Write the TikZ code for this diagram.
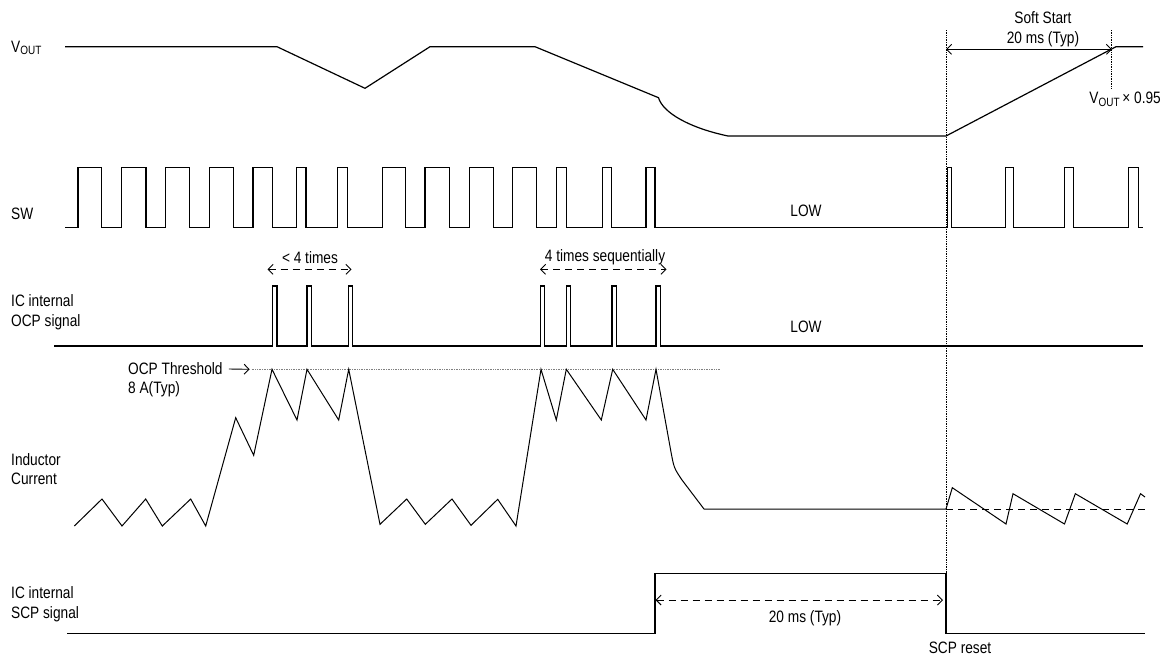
\documentclass[tikz,border=0pt]{standalone}
\usepackage{fontspec}
\setmainfont{Liberation Sans}[FakeStretch=0.83]
\usetikzlibrary{arrows.meta, positioning}
\tikzset{
	sigtext/.style={font=\fontsize{16.5}{19.7}\selectfont, inner sep=0pt}
}
\tikzset{
	sigline/.style={line width=1.2pt, line join=miter}
}
\tikzset{
	barbs/.style={line width=0.9pt, {Straight Barb[length=5pt,width=10pt]}-{Straight Barb[length=5pt,width=10pt]}}
}
\tikzset{
	guide/.style={line width=0.7pt, densely dotted}
}
\tikzset{
	longdash/.style={dash pattern=on 7pt off 5pt}
}
\newcommand{\vout}{V\raisebox{-0.3ex}{\fontsize{12}{12}\selectfont OUT}}

\begin{document}
\begin{tikzpicture}[x=1pt, y=-1pt]
      \useasboundingbox (0,0) rectangle (1162,657);
      % row labels
      \node[sigtext, anchor=west] (vout) at (11,48) {\vout};
      \node[sigtext, anchor=west] (sw) at (11,214) {SW};
      \node[sigtext, anchor=west, align=left] (ocp) at (11,312) {IC internal\\OCP signal};
      \node[sigtext, anchor=west, align=left] (ind) at (11,469) {Inductor\\Current};
      \node[sigtext, anchor=west, align=left] (scp) at (11,604) {IC internal\\SCP signal};
      % output voltage
      \draw[sigline] (65,46.7) -- (277,46.7) -- (365,88.3) -- (430,46.7) -- (535,46.7)
        -- (658.5,97.7) .. controls (663,113) and (690,128) .. (728,136) -- (946,136)
        -- (1116,46.7) -- (1143,46.7);
      % switching node
      \draw[sigline] (65,227.5)
        \foreach \a/\b in {78/101.7, 121.7/146, 165.3/189.3, 209.3/233.3, 253/272.7,
          296.7/306, 337.3/347.7, 382.3/405.7, 425/449.3, 469.3/493.3, 512.7/536.7,
          556.7/566.7, 602.3/611.7, 646/655, 947.3/951.7, 1005.7/1013.3,
          1064.3/1073.3, 1128.3/1138.3}
          { -- (\a,227.5) -- (\a,167.7) -- (\b,167.7) -- (\b,227.5) }
        -- (1143,227.5);
      \node[sigtext] (swlow) at (806,211) {LOW};
      % OCP flag
      \draw[sigline] (54,346)
        \foreach \a/\b in {272.7/277, 307/311.3, 348.7/352.7, 540.3/544.7,
          566.3/570.3, 612/616.3, 656/660.3}
          { -- (\a,346) -- (\a,286) -- (\b,286) -- (\b,346) }
        -- (1143,346);
      \node[sigtext] (ocplow) at (806,327) {LOW};
      \node[sigtext] (few) at (310,258) {< 4 times};
      \coordinate (fewL) at (267.5,269.3);
      \coordinate (fewR) at (351.5,269.3);
      \draw[barbs, longdash] (fewL) -- (fewR);
      \node[sigtext] (seq) at (605,257) {4 times sequentially};
      \coordinate (seqL) at (540,269.3);
      \coordinate (seqR) at (666.5,269.3);
      \draw[barbs, longdash] (seqL) -- (seqR);
      % OCP threshold
      \node[sigtext, anchor=west] (thr) at (128,369) {OCP Threshold};
      \node[sigtext, anchor=west] (thrval) at (128,389) {8 A(Typ)};
      \coordinate (thrL) at (251.7,369.3);
      \coordinate (thrR) at (720.7,369.3);
      \draw[guide, gray, line width=0.6pt] (thrL) -- (thrR);
      \draw[line width=0.9pt, -{Straight Barb[length=5pt,width=10pt]}] ([xshift=6pt]thr.east) -- ([xshift=-2pt]thrL);
      % inductor current
      \draw[line width=1pt] (74.3,526) -- (102,499) -- (122,526) -- (145.7,499) -- (162.3,526)
        -- (190.7,499) -- (205.7,526) -- (235.7,417.7) -- (253.7,455.3) -- (272,369.3)
        -- (297,420) -- (307,369.3) -- (338.7,420) -- (348.7,369.3) -- (380,524.3)
        -- (406.7,499) -- (425.3,524.3) -- (452,499) -- (471,525.3) -- (497.7,499.3)
        -- (516,526) -- (541,369.3) -- (556.3,420) -- (566.3,369.3) -- (601.3,420)
        -- (612.7,369.3) -- (646,420) -- (656,369.3) -- (671,452) .. controls (674,468) .. (682,480)
        -- (704,509) -- (946,509) -- (952.3,487.7) -- (1006,524) -- (1013,493.7)
        -- (1064.5,524) -- (1075.3,493.7) -- (1127.2,524) -- (1140.5,493.7) -- (1145,497);
      \draw[line width=1pt, longdash] (946,509) -- (1145,509);
      % SCP flag
      \draw[sigline] (67.4,633.3) -- (655,633.3) -- (655,573.3) -- (946,573.3)
        -- (946,633.3) -- (1145,633.3);
      \coordinate (holdL) at (655.5,600);
      \coordinate (holdR) at (943,600);
      \draw[barbs, longdash] (holdL) -- (holdR);
      \node[sigtext] (hold) at (805,618) {20 ms (Typ)};
      \node[sigtext] (reset) at (960,648) {SCP reset};
      % restart line and soft start
      \coordinate (rstT) at (946,30);
      \coordinate (rstB) at (946,573.3);
      \draw[guide] (rstT) -- (rstB);
      \coordinate (ssT) at (1111,30);
      \coordinate (ssB) at (1111,88);
      \draw[guide] (ssT) -- (ssB);
      \coordinate (ssL) at (946,49.3);
      \coordinate (ssR) at (1112,49.3);
      \draw[barbs] (ssL) -- (ssR);
      \node[sigtext] (soft) at (1043,18) {Soft Start};
      \node[sigtext, below=7pt of soft] (softtime) {20 ms (Typ)};
      \node[sigtext, anchor=east] (vlim) at (1161,99) {\vout\,× 0.95};
\end{tikzpicture}
\end{document}
